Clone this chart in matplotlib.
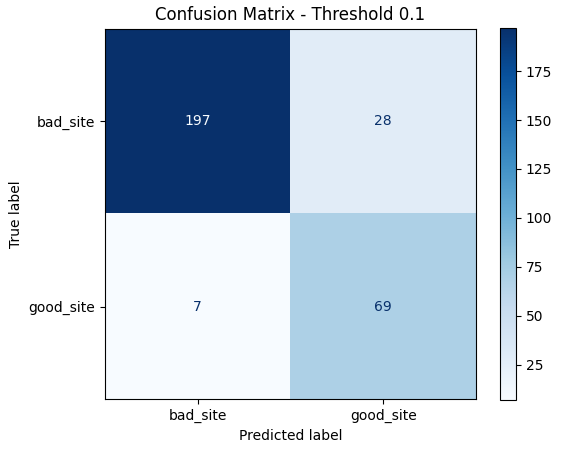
import matplotlib
matplotlib.use("Agg")
import matplotlib.pyplot as plt
import numpy as np

labels = ["bad_site", "good_site"]
cm = np.array([[197, 28], [7, 69]])

fig = plt.figure(figsize=(5.65, 4.53), dpi=100)
ax = fig.add_axes([105/565, 1-400/453, 371/565, 372/453])
cax = fig.add_axes([500/565, 1-400/453, 16/565, 372/453])
cmap = plt.cm.Blues
im = ax.imshow(cm, cmap=cmap, interpolation="nearest")
fig.colorbar(im, cax=cax)
thresh = (cm.max() + cm.min()) / 2
for i in range(2):
    for j in range(2):
        c = cmap(0) if cm[i, j] >= thresh else cmap(1.0)
        ax.text(j, i, str(cm[i, j]), ha="center", va="center", color=c)
ax.set_xticks(range(2), labels)
ax.set_yticks(range(2), labels)
ax.set_xlabel("Predicted label")
ax.set_ylabel("True label")
ax.set_title("Confusion Matrix - Threshold 0.1")
fig.savefig("out.png", dpi=100)
